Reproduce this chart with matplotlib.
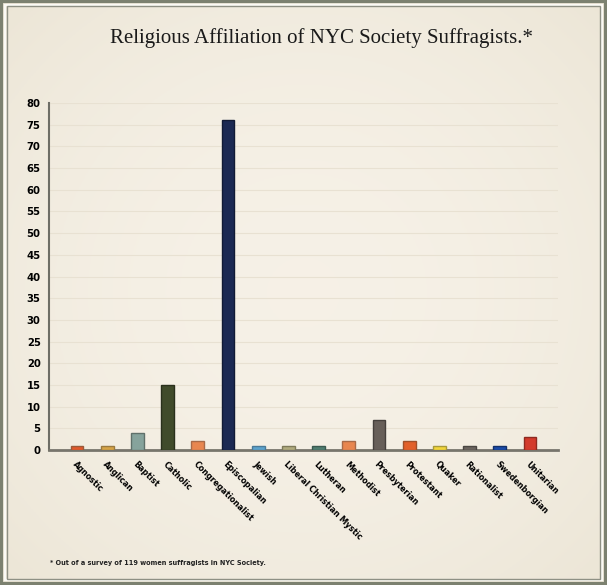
import matplotlib
matplotlib.use('Agg')
import numpy as np
import matplotlib.pyplot as plt
from matplotlib.patches import Rectangle

religions = ['Agnostic', 'Anglican', 'Baptist', 'Catholic', 'Congregationalist',
             'Episcopalian', 'Jewish', 'Liberal Christian Mystic', 'Lutheran',
             'Methodist', 'Presbyterian', 'Protestant', 'Quaker', 'Rationalist',
             'Swedenborgian', 'Unitarian']
counts = [1, 1, 4, 15, 2, 76, 1, 1, 1, 2, 7, 2, 1, 1, 1, 3]
bar_colors = ['#e2582a', '#d6a447', '#86a39c', '#404b2b', '#e8864f',
              '#1b2953', '#5ca3cc', '#b0ab7e', '#4f7d70', '#e8864f',
              '#675f59', '#e2602a', '#f2d53a', '#6b645e', '#1a4ba8', '#d33b2c']
edge_colors = ['#9a5a3a', '#9a7a40', '#5f706a', '#2a301c', '#a86a48',
               '#111a35', '#4a7a98', '#7e7a5a', '#3a5a50', '#a86a48',
               '#45403c', '#a0502a', '#a89a3a', '#4a4642', '#12306a', '#8e2a20']
y_ticks = list(range(0, 81, 5))

bg = '#f4eee1'
label_font = ['DejaVu Sans']

fig = plt.figure(figsize=(6.07, 5.85), dpi=100, facecolor=bg)

# soft vignette behind everything
bg_ax = fig.add_axes([0, 0, 1, 1], zorder=-10)
yy, xx = np.mgrid[-1:1:200j, -1:1:200j]
r = np.sqrt(xx ** 2 + yy ** 2)
centre = np.array([0.965, 0.945, 0.905])
edge = np.array([0.925, 0.900, 0.840])
t = np.clip(r / 1.4, 0, 1)[..., None] ** 2
bg_ax.imshow(centre * (1 - t) + edge * t, extent=[0, 1, 0, 1], aspect='auto')
bg_ax.axis('off')

ax = fig.add_axes([0.0807, 0.2308, 0.8386, 0.593])
ax.patch.set_alpha(0)

x = list(range(len(religions)))
ax.bar(x, counts, width=0.42, color=bar_colors, edgecolor=edge_colors, linewidth=1.0, zorder=3)

ax.set_xlim(-0.93, len(religions) - 1 + 0.93)
ax.set_ylim(0, 80)
ax.set_yticks(y_ticks)
ax.set_yticklabels([str(v) for v in y_ticks], family=label_font, fontweight='bold',
                   fontstretch='condensed', fontsize=8)
ax.set_xticks(x)
ax.set_xticklabels(religions, rotation=-45, ha='left', va='top', rotation_mode='anchor',
                   family=label_font, fontweight='bold', fontstretch='condensed', fontsize=6.4)
ax.tick_params(axis='both', length=0, pad=6)
ax.tick_params(axis='x', pad=7)

ax.grid(axis='y', color='#e8e1d2', linewidth=0.8, zorder=0)
for side in ['top', 'right']:
    ax.spines[side].set_visible(False)
ax.spines['left'].set_color('#6e6e66')
ax.spines['left'].set_linewidth(1.5)
ax.spines['bottom'].set_color('#77756c')
ax.spines['bottom'].set_linewidth(2)

fig.text(0.53, 0.935, 'Religious Affiliation of NYC Society Suffragists.*',
         ha='center', va='center', family=['Liberation Serif', 'DejaVu Serif'],
         fontsize=15, color='#1a1a1a')
fig.text(0.083, 0.038, '* Out of a survey of 119 women suffragists in NYC Society.',
         ha='left', va='center', family=label_font, fontweight='bold',
         fontstretch='condensed', fontsize=5.2, color='#222222')

# double frame round the picture
fig.patches.append(Rectangle((0.002, 0.002), 0.996, 0.996, transform=fig.transFigure,
                             fill=False, edgecolor='#7c8170', linewidth=3))
fig.patches.append(Rectangle((0.008, 0.008), 0.984, 0.984, transform=fig.transFigure,
                             fill=False, edgecolor='#fbfaf5', linewidth=1.5))
fig.patches.append(Rectangle((0.011, 0.011), 0.978, 0.978, transform=fig.transFigure,
                             fill=False, edgecolor='#8e9084', linewidth=1))

fig.savefig('out.png', dpi=100, facecolor=bg)
